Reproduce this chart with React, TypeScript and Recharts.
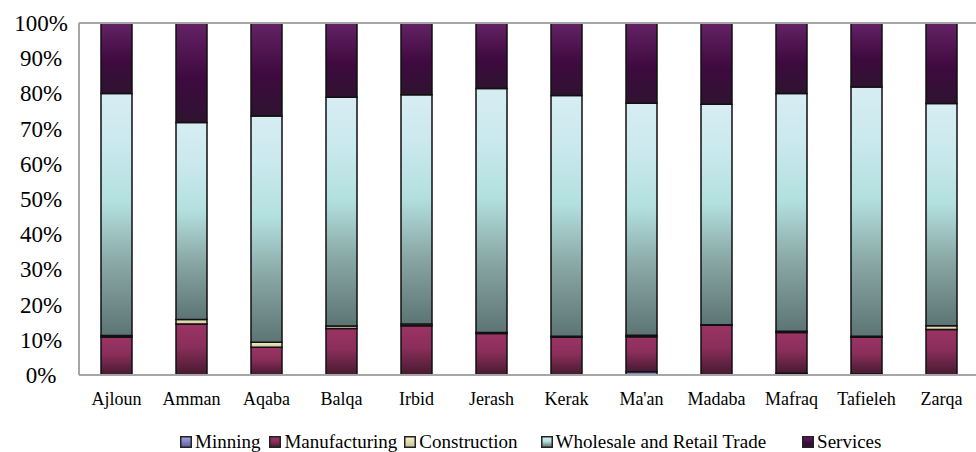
import React from 'react';
import { BarChart, Bar, XAxis, YAxis, ReferenceLine } from 'recharts';

const governorates = ['Ajloun', 'Amman', 'Aqaba', 'Balqa', 'Irbid', 'Jerash', 'Kerak', "Ma'an", 'Madaba', 'Mafraq', 'Tafieleh', 'Zarqa'];
const mining = [0, 0, 0, 0, 0, 0, 0, 0.9, 0, 0.5, 0.3, 0];
const manufacturing = [10.8, 14.5, 7.9, 13.2, 14.0, 11.8, 10.7, 10.0, 14.1, 11.6, 10.4, 12.9];
const construction = [0.4, 1.3, 1.4, 0.7, 0.5, 0.3, 0.3, 0.4, 0.2, 0.3, 0.3, 1.1];
const wholesale = [68.8, 55.9, 64.3, 65.0, 65.1, 69.3, 68.4, 65.9, 62.6, 67.6, 70.6, 63.1];
const services = [20.0, 28.3, 26.4, 21.1, 20.4, 18.6, 20.6, 22.8, 23.1, 20.0, 18.1, 22.9];
const yTicks = [0, 0.1, 0.2, 0.3, 0.4, 0.5, 0.6, 0.7, 0.8, 0.9, 1];

const data = governorates.map((name, i) => ({
  name,
  mining: mining[i],
  manufacturing: manufacturing[i],
  construction: construction[i],
  wholesale: wholesale[i],
  services: services[i],
}));

const series = [
  { key: 'mining', label: 'Minning', stops: [['0%', '#a6a6e6'], ['100%', '#5c5c9c']] },
  { key: 'manufacturing', label: 'Manufacturing', stops: [['0%', '#9b3466'], ['45%', '#8a2e5a'], ['100%', '#461a30']] },
  { key: 'construction', label: 'Construction', stops: [['0%', '#f6f4cc'], ['100%', '#c9c294']] },
  { key: 'wholesale', label: 'Wholesale and Retail Trade', stops: [['0%', '#d6edf3'], ['20%', '#cbe9ee'], ['45%', '#b2e0df'], ['70%', '#8aa8a6'], ['100%', '#5c7574']] },
  { key: 'services', label: 'Services', stops: [['0%', '#642265'], ['55%', '#3e0a3f'], ['100%', '#2e1330']] },
];

const font = 'Liberation Serif';

const renderXTick = ({ x, y, payload }: any) => (
  <text x={x} y={y + 30} textAnchor="middle" fontFamily={font} fontSize={18} fill="#000">
    {payload.value}
  </text>
);

const renderYTick = ({ y, payload }: any) => (
  <text x={41} y={y + 8} textAnchor="middle" fontFamily={font} fontSize={23} fill="#000">
    {`${Math.round(payload.value * 100)}%`}
  </text>
);

const legendGaps = [180, 9, 7, 23, 36];

export default function App() {
  return (
    <div style={{ position: 'absolute', left: 0, top: 0, width: 976, height: 452, overflow: 'hidden', background: '#fff', fontFamily: font }}>
      <BarChart
        width={990}
        height={452}
        data={data}
        stackOffset="expand"
        barSize={31}
        margin={{ top: 23, right: 11, bottom: 47, left: 0 }}
      >
        <defs>
          {series.map((s) => (
            <linearGradient key={s.key} id={`grad-${s.key}`} x1="0" y1="0" x2="0" y2="1">
              {s.stops.map(([o, c]) => (
                <stop key={o} offset={o} stopColor={c} />
              ))}
            </linearGradient>
          ))}
        </defs>
        <XAxis
          dataKey="name"
          height={30}
          tick={renderXTick}
          tickLine={false}
          tickSize={0}
          tickMargin={0}
          axisLine={{ stroke: '#a6a6a6', strokeWidth: 2 }}
          interval={0}
        />
        <YAxis
          width={79}
          domain={[0, 1]}
          ticks={yTicks}
          tick={renderYTick}
          tickLine={false}
          axisLine={{ stroke: '#a6a6a6', strokeWidth: 2 }}
          interval={0}
        />
        <ReferenceLine y={1} stroke="#a6a6a6" strokeWidth={2} />
        {series.map((s) => (
          <Bar
            key={s.key}
            dataKey={s.key}
            stackId="a"
            name={s.label}
            fill={`url(#grad-${s.key})`}
            stroke="#111"
            strokeWidth={1.5}
            isAnimationActive={false}
          />
        ))}
      </BarChart>
      <div
        style={{
          position: 'absolute',
          left: 0,
          top: 431,
          display: 'flex',
          alignItems: 'center',
          fontSize: 19,
          lineHeight: '22px',
          color: '#000',
          whiteSpace: 'nowrap',
        }}
      >
        {series.map((s, i) => (
          <div key={s.key} style={{ display: 'flex', alignItems: 'center', marginLeft: legendGaps[i] }}>
            <svg width={12} height={12} style={{ marginRight: 3 }}>
              <rect x={0.75} y={0.75} width={10.5} height={10.5} fill={`url(#grad-${s.key})`} stroke="#222" strokeWidth={1.5} />
            </svg>
            <span>{s.label}</span>
          </div>
        ))}
      </div>
    </div>
  );
}
